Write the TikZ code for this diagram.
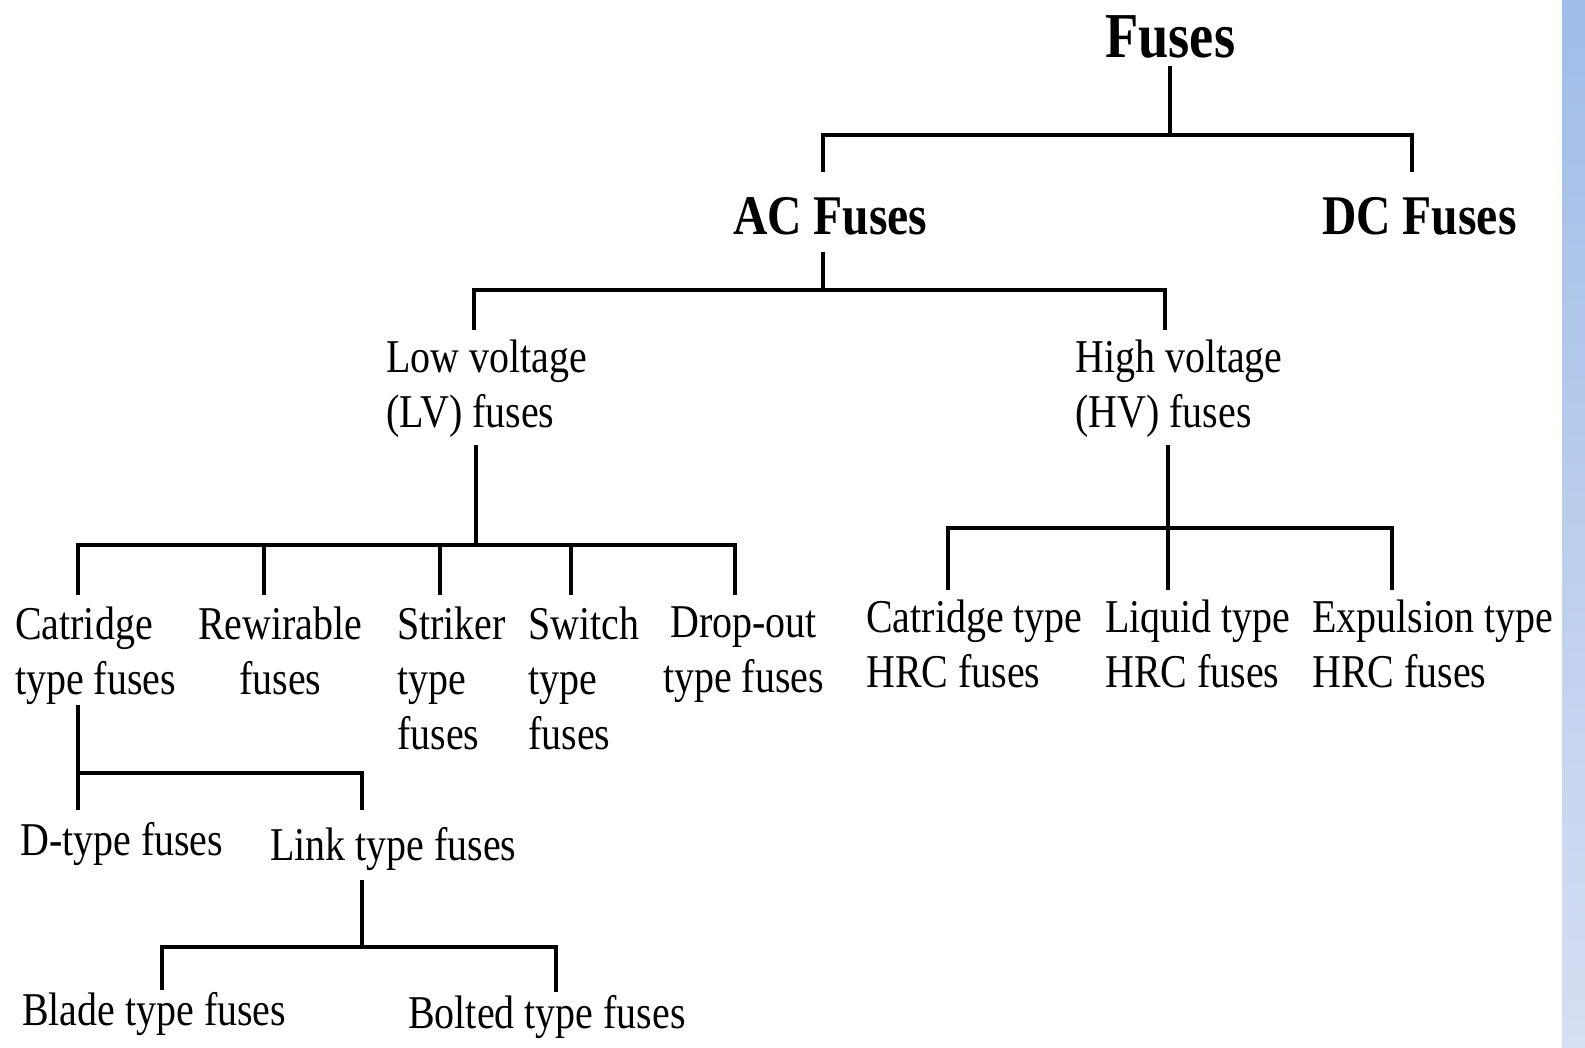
\documentclass[tikz,border=0pt]{standalone}
\usepackage{fontspec}
\setmainfont{Liberation Serif}[FakeStretch=0.85]
\definecolor{stripetop}{RGB}{160,188,232}
\definecolor{stripebot}{RGB}{214,223,243}
\tikzset{
  branch/.style={line width=3.6pt},
  head/.style={font=\bfseries\fontsize{64}{70}\selectfont,inner sep=0pt,anchor=north west},
  sub/.style={font=\bfseries\fontsize{56}{62}\selectfont,inner sep=0pt,anchor=north west},
  leaf/.style={font=\fontsize{47}{55}\selectfont,inner sep=0pt,anchor=north west,align=left},
}
\begin{document}
\begin{tikzpicture}[x=1pt,y=-1pt]
\useasboundingbox (0,0) rectangle (1585,1047);
\shade[top color=stripetop,bottom color=stripebot] (1562,0) rectangle (1585,1047);
% headings
\node[head] (fuses) at (1105,15) {Fuses};
\node[sub] (acf) at (733,197) {AC Fuses};
\node[sub] (dcf) at (1322,197) {DC Fuses};
% voltage classes
\node[leaf] (lv) at (386,340) {Low voltage\\(LV) fuses};
\node[leaf] (hv) at (1075,340) {High voltage\\(HV) fuses};
% low voltage kinds
\node[leaf] (cat) at (15,607) {Catridge\\type fuses};
\node[leaf,align=center] (rew) at (198,607) {Rewirable\\fuses};
\node[leaf] (str) at (397,607) {Striker\\type\\fuses};
\node[leaf] (swi) at (528,607) {Switch\\type\\fuses};
\node[leaf,align=center] (drop) at (663,607) {Drop-out\\type fuses};
% high voltage kinds
\node[leaf] (hcat) at (866,600) {Catridge type\\HRC fuses};
\node[leaf] (liq) at (1105,600) {Liquid type\\HRC fuses};
\node[leaf] (expu) at (1312,600) {Expulsion type\\HRC fuses};
% catridge kinds
\node[leaf] (dty) at (20,822) {D-type fuses};
\node[leaf] (link) at (270,827) {Link type fuses};
\node[leaf] (blade) at (22,992) {Blade type fuses};
\node[leaf] (bolt) at (408,995) {Bolted type fuses};
% junctions and drop ends
\coordinate (s-f) at (1170,66);
\coordinate (j1) at (1170,135);
\coordinate (t-ac) at (823,172);
\coordinate (t-dc) at (1412,172);
\coordinate (s-ac) at (823,252);
\coordinate (j2) at (823,290);
\coordinate (t-lv) at (474,330);
\coordinate (t-hv) at (1165,330);
\coordinate (s-lv) at (476,445);
\coordinate (j3) at (476,545);
\coordinate (t-cat) at (78,595);
\coordinate (t-rew) at (264,595);
\coordinate (t-str) at (440,595);
\coordinate (t-swi) at (571,595);
\coordinate (t-drop) at (735,595);
\coordinate (s-hv) at (1168,445);
\coordinate (j4) at (1168,528);
\coordinate (t-hcat) at (948,590);
\coordinate (t-liq) at (1168,590);
\coordinate (t-expu) at (1392,590);
\coordinate (s-cat) at (78,705);
\coordinate (j5) at (78,773);
\coordinate (t-dty) at (78,810);
\coordinate (t-link) at (362,810);
\coordinate (s-link) at (362,880);
\coordinate (j6) at (362,947);
\coordinate (t-blade) at (162,990);
\coordinate (t-bolt) at (556,992);
% connectors
\draw[branch] (s-f) -- (j1);
\draw[branch] (t-ac) |- (j1) -| (t-dc);
\draw[branch] (s-ac) -- (j2);
\draw[branch] (t-lv) |- (j2) -| (t-hv);
\draw[branch] (s-lv) -- (j3);
\draw[branch] (t-cat) |- (j3) -| (t-drop);
\draw[branch] (t-rew) -- (t-rew |- j3);
\draw[branch] (t-str) -- (t-str |- j3);
\draw[branch] (t-swi) -- (t-swi |- j3);
\draw[branch] (s-hv) -- (t-liq);
\draw[branch] (t-hcat) |- (j4) -| (t-expu);
\draw[branch] (s-cat) -- (t-dty);
\draw[branch] (j5) -| (t-link);
\draw[branch] (s-link) -- (j6);
\draw[branch] (t-blade) |- (j6) -| (t-bolt);
\end{tikzpicture}
\end{document}
